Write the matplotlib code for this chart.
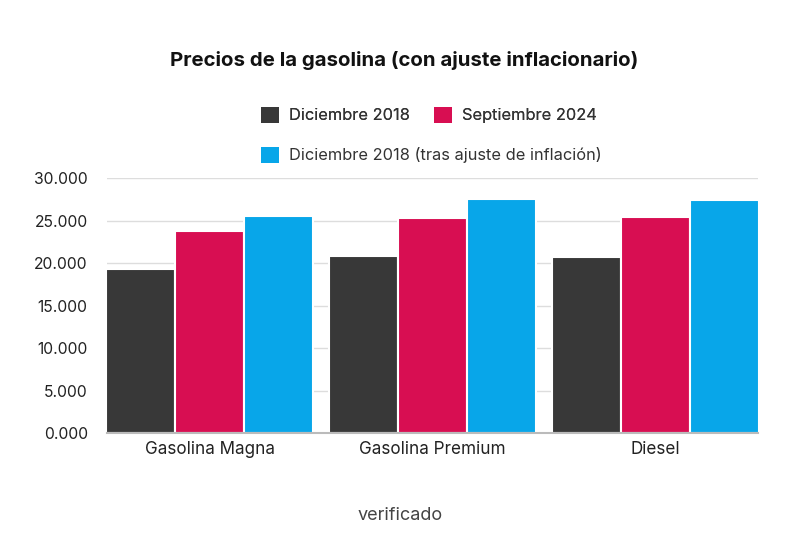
import matplotlib
matplotlib.use("Agg")
import matplotlib.pyplot as plt
import numpy as np
from matplotlib.patches import Patch

plt.rcParams['font.family'] = ['Inter', 'DejaVu Sans']

categories = ["Gasolina Magna", "Gasolina Premium", "Diesel"]
dic_2018 = [19.29, 20.82, 20.72]
sep_2024 = [23.76, 25.25, 25.41]
dic_2018_adj = [25.50, 27.53, 27.41]
series_names = ["Diciembre 2018", "Septiembre 2024",
                "Diciembre 2018 (tras ajuste de inflación)"]
colors = ["#383838", "#D80E52", "#08A6E9"]
yticks = [0, 5, 10, 15, 20, 25, 30]

fig = plt.figure(figsize=(8, 5.33), dpi=100)
ax = fig.add_axes([0.134, 0.1876, 0.8135, 0.4784])

x = np.arange(len(categories))
w = 0.31
for i, (vals, c) in enumerate(zip([dic_2018, sep_2024, dic_2018_adj], colors)):
    ax.bar(x + (i - 1) * w, vals, w, color=c, edgecolor='white', linewidth=1.5, zorder=3)

ax.set_xlim(-0.46, 2.46)
ax.set_ylim(0, 30)
ax.set_yticks(yticks)
ax.set_yticklabels(["%.3f" % v for v in yticks], fontsize=11.3, color='#222222')
ax.set_xticks(x)
ax.set_xticklabels(categories, fontsize=12.3, color='#222222')
ax.tick_params(axis='y', length=0, pad=14)
ax.tick_params(axis='x', length=0, pad=6)
ax.grid(axis='y', color='#dddddd', linewidth=1, zorder=0)
for s in ['top', 'right', 'left']:
    ax.spines[s].set_visible(False)
ax.spines['bottom'].set_color('#bbbbbb')
ax.spines['bottom'].set_linewidth(1.5)
ax.spines['bottom'].set_zorder(4)

fig.text(0.505, 1 - 60 / 533, "Precios de la gasolina (con ajuste inflacionario)",
         ha='center', va='center', fontsize=14.7, fontweight='bold', color='#111111')

h = [Patch(facecolor=c) for c in colors]
leg1 = fig.legend(h[:2], series_names[:2], loc='center', ncol=2,
                  bbox_to_anchor=(0.536, 1 - 115 / 533), frameon=False, fontsize=11.8,
                  labelcolor='#333333',
                  handlelength=1.1, handleheight=1.1, columnspacing=1.5, handletextpad=0.6)
fig.add_artist(leg1)
fig.legend(h[2:], series_names[2:], loc='center', labelcolor='#333333',
           bbox_to_anchor=(0.539, 1 - 155 / 533), frameon=False, fontsize=11.8,
           handlelength=1.1, handleheight=1.1, handletextpad=0.6)

fig.text(0.5, 1 - 515 / 533, "verificado", ha='center', va='center',
         fontsize=13, color='#444444')

fig.savefig("out.png", dpi=100)
